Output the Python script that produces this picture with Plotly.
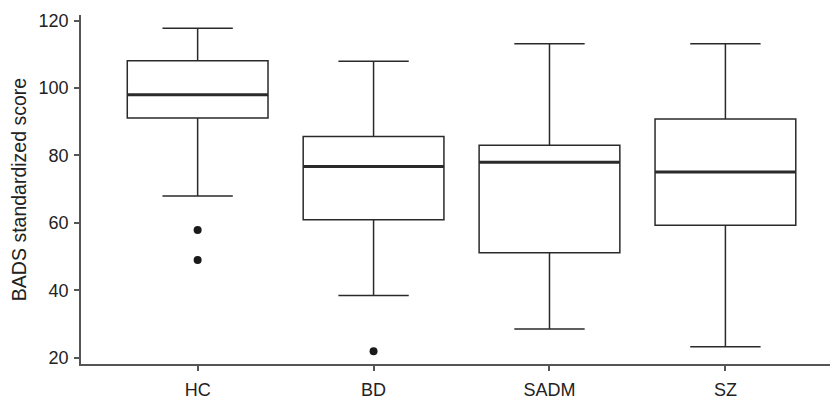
import plotly.graph_objects as go

groups = ["HC", "BD", "SADM", "SZ"]
lower_fence = [68, 38.4, 28.5, 23.2]
q1 = [91.1, 60.9, 51.1, 59.3]
median = [98, 76.7, 78, 75.1]
q3 = [108.1, 85.6, 83, 90.8]
upper_fence = [117.8, 108, 113.2, 113.2]
outlier_group = ["HC", "HC", "BD"]
outlier_value = [57.9, 49, 21.9]

pos = list(range(len(groups)))
box_w = 0.8
line_col = "#2a2a2a"
font_family = "Liberation Sans, Arial, sans-serif"

fig = go.Figure()
fig.add_trace(go.Box(
    x=pos, q1=q1, median=median, q3=q3,
    lowerfence=lower_fence, upperfence=upper_fence,
    width=box_w, whiskerwidth=0.5,
    fillcolor="white", line=dict(color=line_col, width=1.5),
    boxpoints=False, showlegend=False, hoverinfo="skip",
))

mx, my = [], []
for p, m in zip(pos, median):
    mx += [p - box_w / 2, p + box_w / 2, None]
    my += [m, m, None]
fig.add_trace(go.Scatter(x=mx, y=my, mode="lines",
                         line=dict(color=line_col, width=3),
                         showlegend=False, hoverinfo="skip"))

fig.add_trace(go.Scatter(
    x=[groups.index(g) for g in outlier_group], y=outlier_value,
    mode="markers", marker=dict(color="#1a1a1a", size=8),
    showlegend=False, hoverinfo="skip"))

# page body has an 8px default margin; compensate so the plot lands where the reference has it
fig.update_layout(
    width=830, height=391,
    margin=dict(l=73, r=0, t=7, b=35),
    plot_bgcolor="white", paper_bgcolor="white",
    font=dict(family=font_family, size=18, color="#222"),
    xaxis=dict(range=[-0.663, 3.64], tickvals=pos, ticktext=groups,
               automargin=False, ticklabelstandoff=4,
               showgrid=False, zeroline=False, showline=True,
               linecolor="#555", linewidth=1.5,
               ticks="outside", ticklen=5, tickcolor="#555", tickwidth=1.5),
    yaxis=dict(range=[18.1, 121.7], tickvals=[20, 40, 60, 80, 100, 120],
               automargin=False, ticklabelstandoff=2,
               showgrid=False, zeroline=False, showline=True,
               linecolor="#555", linewidth=1.5,
               ticks="outside", ticklen=5, tickcolor="#555", tickwidth=1.5,
               title=dict(text="BADS standardized score", standoff=8,
                          font=dict(size=19.5))),
)

fig.write_html("out.html")
